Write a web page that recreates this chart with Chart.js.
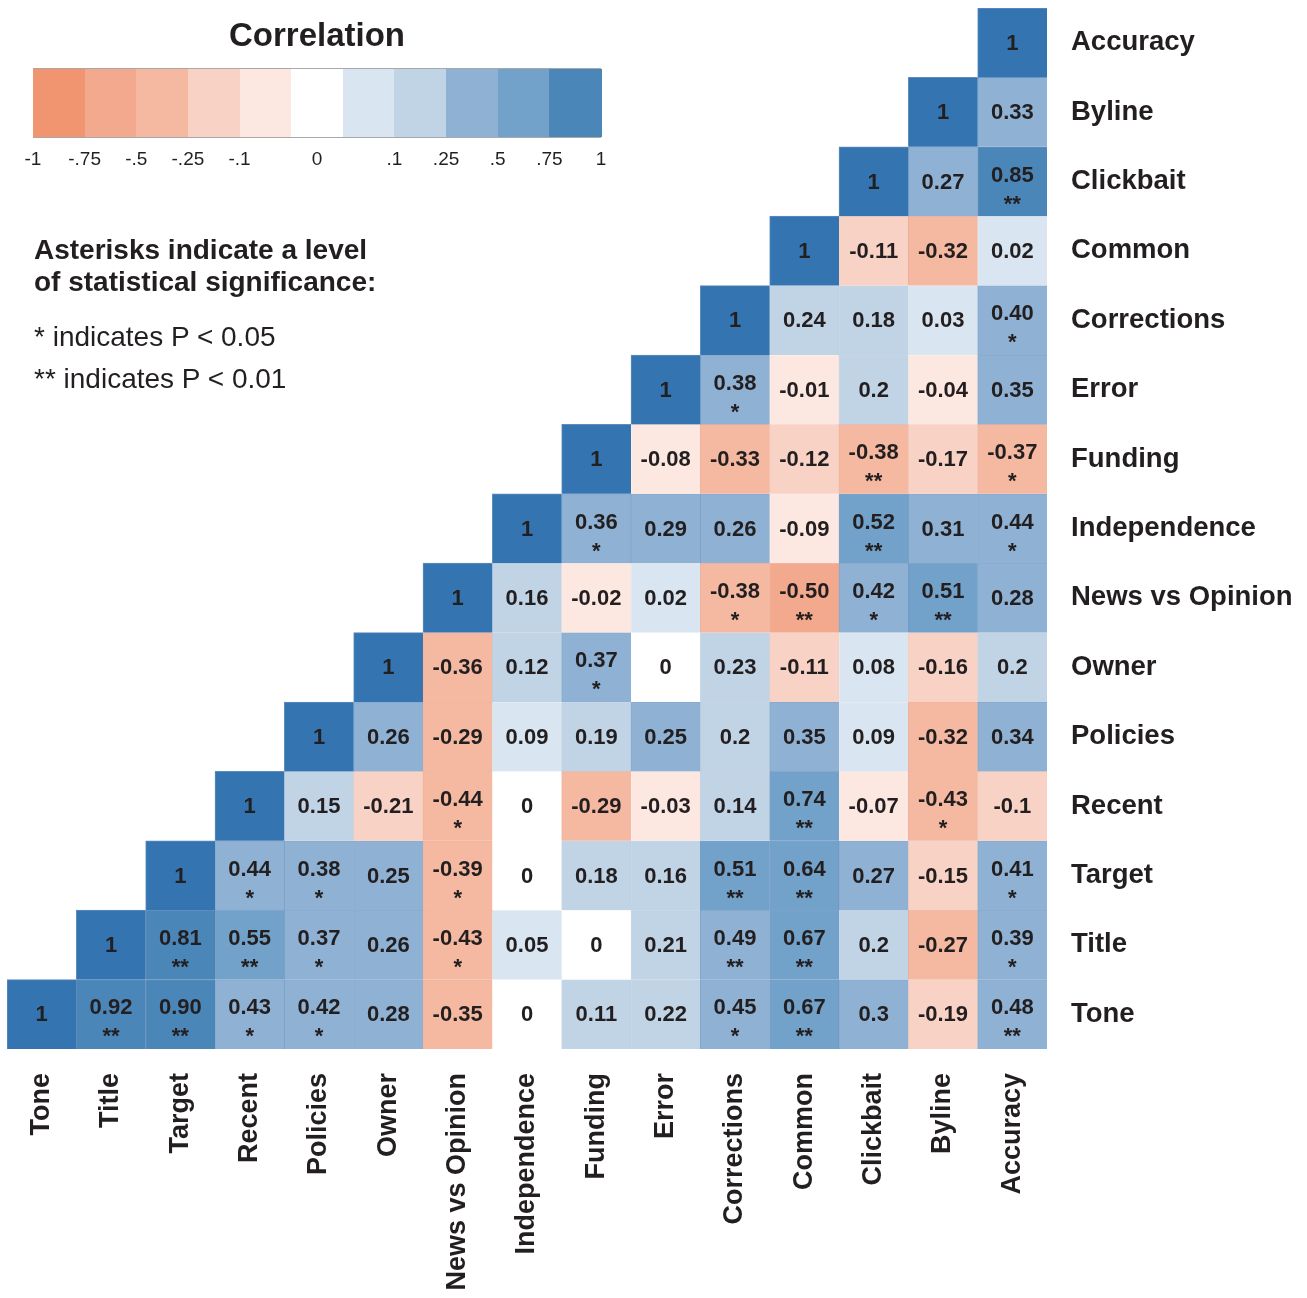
<!DOCTYPE html>
<html>
<head>
<meta charset="utf-8">
<script src="https://cdn.jsdelivr.net/npm/chart.js@4/dist/chart.umd.min.js"></script>
<style>
  html, body { margin: 0; padding: 0; background: #ffffff; }
  #wrap { position: relative; width: 1307px; height: 1298px; overflow: hidden; }
  #chart { position: absolute; left: 0; top: 0; }
  .txt { position: absolute; color: #231f20; font-family: "Liberation Sans", Arial, Helvetica, sans-serif; white-space: nowrap; }
  .cb { position: absolute; }
</style>
</head>
<body>
<div id="wrap">
  <canvas id="chart" width="1307" height="1298"></canvas>
</div>
<script>
// ---------- DATA ----------
// Columns, left to right
const columns = ["Tone", "Title", "Target", "Recent", "Policies", "Owner", "News vs Opinion",
  "Independence", "Funding", "Error", "Corrections", "Common", "Clickbait", "Byline", "Accuracy"];
// Rows, top to bottom
const rows = ["Accuracy", "Byline", "Clickbait", "Common", "Corrections", "Error", "Funding",
  "Independence", "News vs Opinion", "Owner", "Policies", "Recent", "Target", "Title", "Tone"];

// Each row's values, from the diagonal cell rightwards to the Accuracy column
const corrValues = [
  [1],
  [1, 0.33],
  [1, 0.27, 0.85],
  [1, -0.11, -0.32, 0.02],
  [1, 0.24, 0.18, 0.03, 0.40],
  [1, 0.38, -0.01, 0.2, -0.04, 0.35],
  [1, -0.08, -0.33, -0.12, -0.38, -0.17, -0.37],
  [1, 0.36, 0.29, 0.26, -0.09, 0.52, 0.31, 0.44],
  [1, 0.16, -0.02, 0.02, -0.38, -0.50, 0.42, 0.51, 0.28],
  [1, -0.36, 0.12, 0.37, 0, 0.23, -0.11, 0.08, -0.16, 0.2],
  [1, 0.26, -0.29, 0.09, 0.19, 0.25, 0.2, 0.35, 0.09, -0.32, 0.34],
  [1, 0.15, -0.21, -0.44, 0, -0.29, -0.03, 0.14, 0.74, -0.07, -0.43, -0.1],
  [1, 0.44, 0.38, 0.25, -0.39, 0, 0.18, 0.16, 0.51, 0.64, 0.27, -0.15, 0.41],
  [1, 0.81, 0.55, 0.37, 0.26, -0.43, 0.05, 0, 0.21, 0.49, 0.67, 0.2, -0.27, 0.39],
  [1, 0.92, 0.90, 0.43, 0.42, 0.28, -0.35, 0, 0.11, 0.22, 0.45, 0.67, 0.3, -0.19, 0.48]
];
// Significance stars, same layout
const sigStars = [
  [""],
  ["", ""],
  ["", "", "**"],
  ["", "", "", ""],
  ["", "", "", "", "*"],
  ["", "*", "", "", "", ""],
  ["", "", "", "", "**", "", "*"],
  ["", "*", "", "", "", "**", "", "*"],
  ["", "", "", "", "*", "**", "*", "**", ""],
  ["", "", "", "*", "", "", "", "", "", ""],
  ["", "", "", "", "", "", "", "", "", "", ""],
  ["", "", "", "*", "", "", "", "", "**", "", "*", ""],
  ["", "*", "*", "", "*", "", "", "", "**", "**", "", "", "*"],
  ["", "**", "**", "*", "", "*", "", "", "", "**", "**", "", "", "*"],
  ["", "**", "**", "*", "*", "", "", "", "", "", "*", "**", "", "", "**"]
];

// Colour scale bins (legend)
const binColors = ["#f0956f", "#f3a98d", "#f5b9a2", "#f8d2c5", "#fce8e1", "#ffffff",
  "#d9e5f0", "#c1d4e5", "#8fb1d3", "#72a1c9", "#4b86b9"];
const binBorders = ["rgba(226,120,86,0.6)", "rgba(226,120,86,0.6)", "rgba(226,120,86,0.55)",
  "rgba(226,130,100,0.35)", "rgba(226,150,120,0.15)", "rgba(255,255,255,0)",
  "rgba(90,140,190,0.15)", "rgba(70,120,180,0.3)", "rgba(40,100,165,0.55)",
  "rgba(40,100,165,0.6)", "rgba(30,90,160,0.65)"];
const diagColor = "#3475b1";
const legendTicks = ["-1", "-.75", "-.5", "-.25", "-.1", "0", ".1", ".25", ".5", ".75", "1"];

function binIndex(v) {
  if (v === 0) return 5;
  if (v < 0) {
    if (v <= -0.75) return 0;
    if (v <= -0.5) return 1;
    if (v <= -0.25) return 2;
    if (v <= -0.1) return 3;
    return 4;
  }
  if (v < 0.1) return 6;
  if (v < 0.25) return 7;
  if (v < 0.5) return 8;
  if (v < 0.75) return 9;
  return 10;
}
function fillFor(v) { return v >= 1 ? diagColor : binColors[binIndex(v)]; }
function borderFor(v) { return v >= 1 ? "rgba(30,90,160,0.7)" : binBorders[binIndex(v)]; }
function labelFor(v, s) { return s ? v.toFixed(2) : String(v); }

// ---------- BUILD DATASETS ----------
const n = columns.length;
const datasets = rows.map((rowName, r) => {
  const start = n - 1 - r;
  const data = [], bg = [], bd = [], txt = [], st = [];
  for (let c = 0; c < n; c++) {
    if (c >= start) {
      const v = corrValues[r][c - start];
      const s = sigStars[r][c - start];
      data.push([n - 1 - r, n - r]);
      bg.push(fillFor(v)); bd.push(borderFor(v));
      txt.push(labelFor(v, s)); st.push(s);
    } else {
      data.push(null); bg.push("rgba(0,0,0,0)"); bd.push("rgba(0,0,0,0)");
      txt.push(null); st.push("");
    }
  }
  return {
    label: rowName, data, backgroundColor: bg, borderColor: bd,
    borderWidth: { top: 1, left: 1, right: 0, bottom: 0 }, borderSkipped: false,
    grouped: false, barPercentage: 1, categoryPercentage: 1,
    cellText: txt, cellStars: st
  };
});

const FONT = '"Liberation Sans Narrow", "Liberation Sans", Arial, sans-serif';
const cellLabels = {
  id: "cellLabels",
  afterDatasetsDraw(chart) {
    const ctx = chart.ctx;
    ctx.save();
    ctx.fillStyle = "#231f20";
    ctx.textAlign = "center";
    chart.data.datasets.forEach((ds, di) => {
      const meta = chart.getDatasetMeta(di);
      meta.data.forEach((el, i) => {
        const t = ds.cellText[i];
        if (t == null) return;
        const cx = el.x;
        const cy = (el.y + el.base) / 2;
        ctx.font = "bold 22px " + FONT;
        ctx.textBaseline = "middle";
        if (ds.cellStars[i]) {
          ctx.fillText(t, cx, cy - 6);
          ctx.fillText(ds.cellStars[i], cx, cy + 23);
        } else {
          ctx.fillText(t, cx, cy + 1);
        }
      });
    });
    ctx.restore();
  }
};

new Chart(document.getElementById("chart"), {
  type: "bar",
  data: { labels: columns, datasets },
  options: {
    responsive: false,
    animation: false,
    layout: { padding: { left: 7, top: 8, right: 0, bottom: 0 } },
    plugins: { legend: { display: false }, tooltip: { enabled: false } },
    scales: {
      x: {
        type: "category",
        offset: true,
        grid: { display: false, drawTicks: false },
        border: { display: false },
        ticks: {
          autoSkip: false, minRotation: 90, maxRotation: 90, padding: 24,
          color: "#231f20", font: { family: "Liberation Sans", weight: "bold", size: 27 }
        },
        afterFit(s) { s.height = 249; s.paddingLeft = 0; s.paddingRight = 0; }
      },
      y: {
        type: "linear", min: 0, max: n, display: false
      },
      y2: {
        type: "category", position: "right", labels: rows, offset: true,
        grid: { display: false, drawTicks: false },
        border: { display: false },
        ticks: {
          autoSkip: false, padding: 24, color: "#231f20",
          font: { family: "Liberation Sans", weight: "bold", size: 27.5 }
        },
        afterFit(s) { s.width = 260; s.paddingTop = 0; s.paddingBottom = 0; }
      }
    }
  },
  plugins: [cellLabels]
});

// ---------- LEGEND (colour bar) & NOTES ----------
const wrap = document.getElementById("wrap");
function addText(text, x, y, size, weight, align) {
  const d = document.createElement("div");
  d.className = "txt";
  d.textContent = text;
  d.style.fontSize = size + "px";
  d.style.lineHeight = size + "px";
  d.style.fontWeight = weight;
  d.style.top = (y - size / 2) + "px";
  if (align === "center") { d.style.left = x + "px"; d.style.transform = "translateX(-50%)"; }
  else d.style.left = x + "px";
  wrap.appendChild(d);
  return d;
}
addText("Correlation", 317, 34, 33, "bold", "center");
const barL = 33, barR = 601, barT = 69, barB = 137;
const segW = (barR - barL) / binColors.length;
binColors.forEach((c, i) => {
  const d = document.createElement("div");
  d.className = "cb";
  d.style.left = (barL + i * segW) + "px";
  d.style.top = barT + "px";
  d.style.width = (segW + 0.6) + "px";
  d.style.height = (barB - barT) + "px";
  d.style.background = c;
  wrap.appendChild(d);
});
const frame = document.createElement("div");
frame.className = "cb";
frame.style.left = barL + "px"; frame.style.top = (barT - 1) + "px";
frame.style.width = (barR - barL) + "px"; frame.style.height = (barB - barT) + "px";
frame.style.borderTop = "1px solid #a8a8a8"; frame.style.borderBottom = "1px solid #a8a8a8";
wrap.appendChild(frame);
const tickPos = [0, 1, 2, 3, 4, 5.5, 7, 8, 9, 10, 11];
legendTicks.forEach((t, i) => {
  const d = addText(t, barL + tickPos[i] * segW, 158, 19, "normal", "center");
  d.style.fontFamily = '"Liberation Sans Narrow", "Liberation Sans", Arial, sans-serif';
});
addText("Asterisks indicate a level", 34, 250, 28, "bold");
addText("of statistical significance:", 34, 282, 28, "bold");
addText("* indicates P < 0.05", 34, 337, 28, "normal");
addText("** indicates P < 0.01", 34, 379, 28, "normal");
</script>
</body>
</html>
